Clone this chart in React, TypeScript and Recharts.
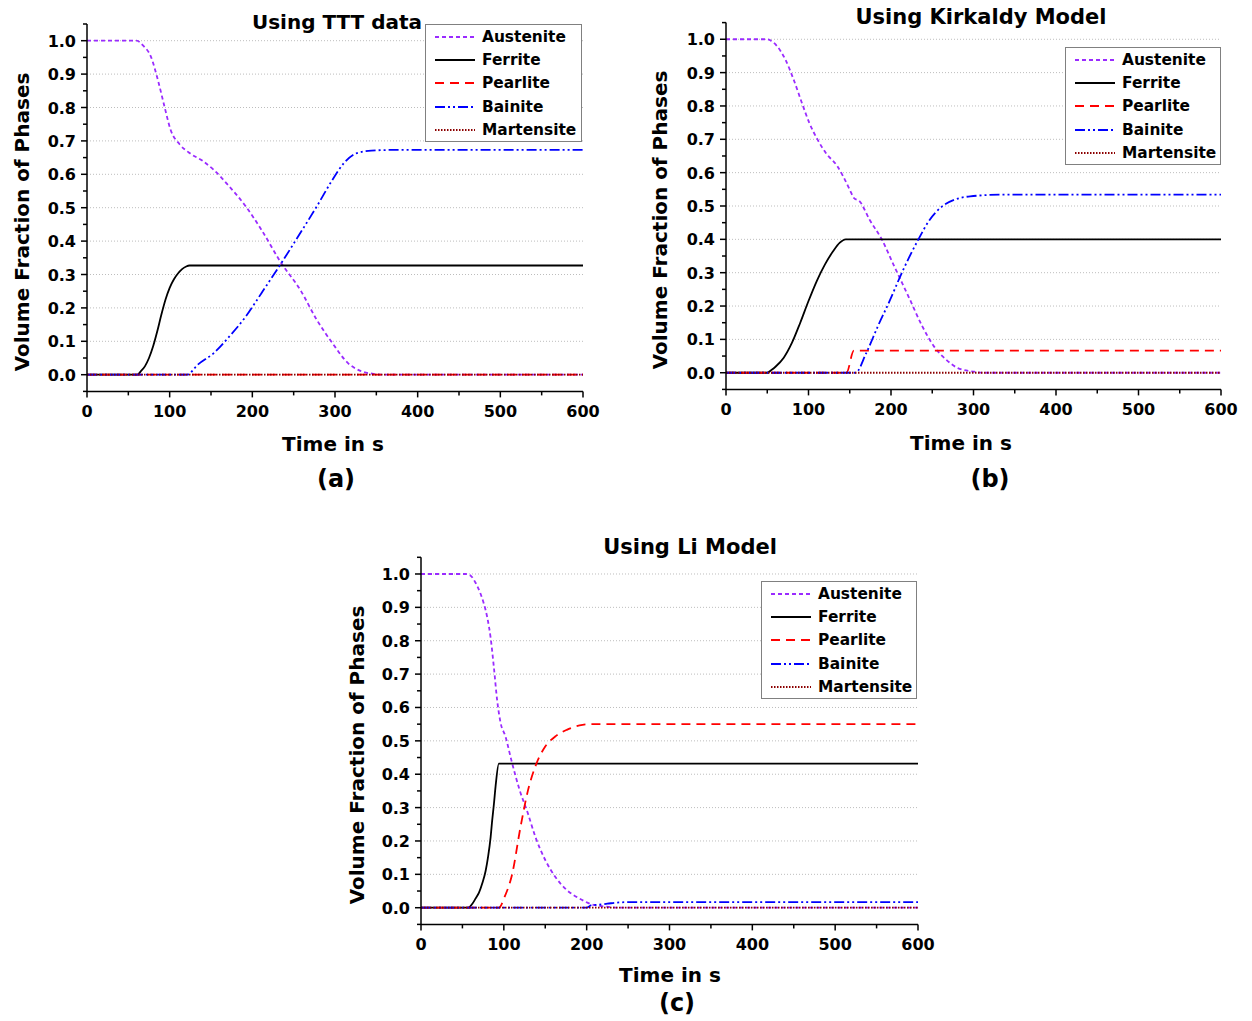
import React from 'react';
import { LineChart, Line, XAxis, YAxis, ReferenceLine, Legend } from 'recharts';

const FONT = '"DejaVu Sans", "Liberation Sans", sans-serif';

// axis ticks (minor every 50 s / 0.05, labels on the majors)
const xTicks = [0, 50, 100, 150, 200, 250, 300, 350, 400, 450, 500, 550, 600];
const yTicks = [-0.05, 0, 0.05, 0.1, 0.15, 0.2, 0.25, 0.3, 0.35, 0.4, 0.45, 0.5, 0.55, 0.6, 0.65, 0.7, 0.75, 0.8, 0.85, 0.9, 0.95, 1.0, 1.05];
const gridValues = [0, 0.1, 0.2, 0.3, 0.4, 0.5, 0.6, 0.7, 0.8, 0.9, 1.0];

const phaseNames = ['Austenite', 'Ferrite', 'Pearlite', 'Bainite', 'Martensite'];

// (a) Using TTT data
const tttAusteniteT = [0, 60, 68, 77, 86, 94, 101, 112, 125, 140, 153, 172, 192, 211, 235, 258, 278, 297, 316, 330, 345, 360, 600];
const tttAusteniteV = [1, 1, 0.985, 0.954, 0.88, 0.8, 0.734, 0.69, 0.662, 0.64, 0.614, 0.564, 0.504, 0.434, 0.334, 0.254, 0.164, 0.094, 0.034, 0.012, 0.003, 0, 0];
const tttFerriteT = [0, 61, 65, 70, 75, 80, 85, 90, 95, 100, 105, 110, 115, 120, 124, 600];
const tttFerriteV = [0, 0, 0.01, 0.025, 0.05, 0.085, 0.13, 0.18, 0.225, 0.26, 0.285, 0.303, 0.316, 0.324, 0.327, 0.327];
const tttPearliteT = [0, 600];
const tttPearliteV = [0, 0];
const tttBainiteT = [0, 121, 134, 153, 172, 192, 211, 235, 258, 278, 297, 311, 325, 344, 373, 600];
const tttBainiteV = [0, 0, 0.03, 0.064, 0.114, 0.174, 0.244, 0.334, 0.424, 0.504, 0.584, 0.634, 0.662, 0.671, 0.673, 0.673];
const tttMartensiteT = [0, 600];
const tttMartensiteV = [0, 0];

// (b) Using Kirkaldy Model
const kirAusteniteT = [0, 49, 55, 62, 72, 82, 92, 101, 111, 121, 135, 142, 150, 155, 162, 174, 189, 204, 223, 238, 252, 267, 281, 301, 311, 600];
const kirAusteniteV = [1, 1, 0.995, 0.979, 0.939, 0.879, 0.809, 0.749, 0.699, 0.659, 0.619, 0.589, 0.549, 0.524, 0.514, 0.459, 0.399, 0.319, 0.219, 0.139, 0.079, 0.039, 0.014, 0.003, 0, 0];
const kirFerriteT = [0, 50, 55, 60, 70, 80, 90, 100, 110, 120, 130, 138, 145, 600];
const kirFerriteV = [0, 0, 0.008, 0.018, 0.045, 0.09, 0.15, 0.215, 0.275, 0.325, 0.365, 0.39, 0.4, 0.4];
const kirPearliteT = [0, 146, 155, 600];
const kirPearliteV = [0, 0, 0.066, 0.066];
const kirBainiteT = [0, 157, 170, 184, 199, 213, 233, 247, 262, 277, 296, 335, 600];
const kirBainiteV = [0, 0, 0.059, 0.139, 0.219, 0.299, 0.399, 0.459, 0.499, 0.519, 0.529, 0.534, 0.534];
const kirMartensiteT = [0, 600];
const kirMartensiteV = [0, 0];

// (c) Using Li Model
const liAusteniteT = [0, 54, 60, 66, 72, 76, 80, 84, 88, 92, 96, 102, 109, 119, 129, 138, 150, 162, 176, 191, 205, 224, 243, 600];
const liAusteniteV = [1, 1, 0.995, 0.973, 0.94, 0.91, 0.87, 0.81, 0.72, 0.62, 0.555, 0.513, 0.443, 0.353, 0.283, 0.213, 0.143, 0.093, 0.053, 0.028, 0.011, 0.003, 0, 0];
const liFerriteT = [0, 57, 62, 66, 70, 74, 78, 81, 84, 86, 88, 90, 94, 600];
const liFerriteV = [0, 0, 0.012, 0.028, 0.045, 0.073, 0.11, 0.153, 0.21, 0.263, 0.31, 0.363, 0.432, 0.432];
const liPearliteT = [0, 94, 101, 110, 120, 129, 138, 150, 162, 176, 195, 205, 600];
const liPearliteV = [0, 0, 0.033, 0.1, 0.24, 0.35, 0.423, 0.483, 0.513, 0.533, 0.548, 0.55, 0.55];
const liBainiteT = [0, 200, 206, 215, 225, 240, 260, 600];
const liBainiteV = [0, 0, 0.008, 0.009, 0.012, 0.016, 0.017, 0.017];
const liMartensiteT = [0, 600];
const liMartensiteV = [0, 0];

const STYLES: Record<string, { stroke: string; dash?: string }> = {
  Austenite: { stroke: '#9a2bff', dash: '4 3' },
  Ferrite: { stroke: '#000000' },
  Pearlite: { stroke: '#ff0000', dash: '9 6' },
  Bainite: { stroke: '#0000ff', dash: '10 3 2 3 2 3' },
  Martensite: { stroke: '#8b0000', dash: '1.5 1.5' },
};

const zip = (t: number[], v: number[]) => t.map((x, i) => ({ t: x, v: v[i] }));

const XTick = (props: any) => {
  const { x, y, payload } = props;
  const major = Math.round(payload.value) % 100 === 0;
  return (
    <g>
      <line x1={x} x2={x} y1={y} y2={y + (major ? 6 : 4)} stroke="#000" strokeWidth={1.5} />
      {major && (
        <text x={x} y={y + 26} textAnchor="middle" fontFamily={FONT} fontWeight="bold" fontSize={16} fill="#000">
          {payload.value}
        </text>
      )}
    </g>
  );
};

const YTick = (props: any) => {
  const { x, y, payload } = props;
  const k = Math.round(payload.value * 100);
  const major = k % 10 === 0;
  return (
    <g>
      <line x1={x - (major ? 6 : 4)} x2={x} y1={y} y2={y} stroke="#000" strokeWidth={1.5} />
      {major && (
        <text x={x - 11} y={y + 6} textAnchor="end" fontFamily={FONT} fontWeight="bold" fontSize={16} fill="#000">
          {(k / 100).toFixed(1)}
        </text>
      )}
    </g>
  );
};

// keep the legend in the plotting order, not alphabetical
const LegendBox = ({ payload }: any) => {
  const items = [...(payload || [])].sort(
    (a: any, b: any) => phaseNames.indexOf(a.value) - phaseNames.indexOf(b.value),
  );
  return (
    <div style={{ border: '1px solid #808080', background: '#fff', padding: '0 2px 0 9px', boxSizing: 'border-box' }}>
      {items.map((e: any) => (
        <div key={e.value} style={{ display: 'flex', alignItems: 'center', height: 23.3 }}>
          <svg width={40} height={10} style={{ flexShrink: 0 }}>
            <line x1={0} y1={5} x2={40} y2={5} stroke={e.color} strokeWidth={1.8} strokeDasharray={STYLES[e.value]?.dash} />
          </svg>
          <span style={{ marginLeft: 7, fontFamily: FONT, fontWeight: 'bold', fontSize: 15.4, color: '#000', whiteSpace: 'nowrap' }}>
            {e.value}
          </span>
        </div>
      ))}
    </div>
  );
};

type Series = { name: string; t: number[]; v: number[] };

const Panel = ({ left, top, width, height, margin, series, legend }: {
  left: number; top: number; width: number; height: number;
  margin: { top: number; right: number; bottom: number; left: number };
  series: Series[]; legend: { left: number; top: number; width: number };
}) => (
  <div style={{ position: 'absolute', left, top }}>
    <LineChart width={width} height={height} margin={margin}>
      <XAxis type="number" dataKey="t" domain={[0, 600]} ticks={xTicks} interval={0} tick={XTick}
        tickLine={false} tickSize={0} tickMargin={0} height={30} allowDataOverflow
        axisLine={{ stroke: '#000', strokeWidth: 1.5 }} />
      <YAxis type="number" domain={[-0.05, 1.05]} ticks={yTicks} interval={0} tick={YTick}
        tickLine={false} tickSize={0} tickMargin={0} width={50} allowDataOverflow
        axisLine={{ stroke: '#000', strokeWidth: 1.5 }} />
      {gridValues.map((g) => (
        <ReferenceLine key={g} y={g} stroke="#bdbdbd" strokeDasharray="1 2" strokeWidth={1} />
      ))}
      {series.map((s) => (
        <Line key={s.name} name={s.name} data={zip(s.t, s.v)} dataKey="v" type="monotone"
          stroke={STYLES[s.name].stroke} strokeDasharray={STYLES[s.name].dash} strokeWidth={1.8}
          dot={false} activeDot={false} isAnimationActive={false} />
      ))}
      <Legend layout="vertical" align="center" verticalAlign="middle"
        wrapperStyle={{ left: legend.left, top: legend.top, width: legend.width }}
        content={(p: any) => <LegendBox {...p} />} />
    </LineChart>
  </div>
);

const build = (arrs: number[][][]): Series[] => phaseNames.map((n, i) => ({ name: n, t: arrs[i][0], v: arrs[i][1] }));

const tttSeries = build([[tttAusteniteT, tttAusteniteV], [tttFerriteT, tttFerriteV], [tttPearliteT, tttPearliteV], [tttBainiteT, tttBainiteV], [tttMartensiteT, tttMartensiteV]]);
const kirSeries = build([[kirAusteniteT, kirAusteniteV], [kirFerriteT, kirFerriteV], [kirPearliteT, kirPearliteV], [kirBainiteT, kirBainiteV], [kirMartensiteT, kirMartensiteV]]);
const liSeries = build([[liAusteniteT, liAusteniteV], [liFerriteT, liFerriteV], [liPearliteT, liPearliteV], [liBainiteT, liBainiteV], [liMartensiteT, liMartensiteV]]);

const Txt = ({ x, y, size, children, rotate }: { x: number; y: number; size: number; children: React.ReactNode; rotate?: boolean }) => (
  <div style={{
    position: 'absolute', left: x, top: y, whiteSpace: 'nowrap', fontFamily: FONT, fontWeight: 'bold',
    fontSize: size, lineHeight: 1, color: '#000',
    transform: `translate(-50%, -50%)${rotate ? ' rotate(-90deg)' : ''}`,
  }}>{children}</div>
);

export default function App() {
  return (
    <div style={{ position: 'absolute', left: 0, top: 0, width: 1252, height: 1021, background: '#fff', overflow: 'hidden' }}>
      <Panel left={0} top={0} width={620} height={480}
        margin={{ top: 24, right: 37, bottom: 58.6, left: 37 }}
        series={tttSeries} legend={{ left: 425, top: 24, width: 157 }} />
      <Panel left={640} top={0} width={612} height={480}
        margin={{ top: 22.6, right: 31, bottom: 60.6, left: 36 }}
        series={kirSeries} legend={{ left: 425, top: 47, width: 156 }} />
      <Panel left={330} top={520} width={620} height={480}
        margin={{ top: 37.3, right: 32, bottom: 45.6, left: 41 }}
        series={liSeries} legend={{ left: 431, top: 61, width: 156 }} />

      <Txt x={337} y={22} size={20}>Using TTT data</Txt>
      <Txt x={981} y={17} size={21}>Using Kirkaldy Model</Txt>
      <Txt x={690} y={547} size={21}>Using Li Model</Txt>

      <Txt x={333} y={444} size={20}>Time in s</Txt>
      <Txt x={961} y={443} size={20}>Time in s</Txt>
      <Txt x={670} y={975} size={20}>Time in s</Txt>

      <Txt x={22} y={222} size={20} rotate>Volume Fraction of Phases</Txt>
      <Txt x={660} y={220} size={20} rotate>Volume Fraction of Phases</Txt>
      <Txt x={357} y={755} size={20} rotate>Volume Fraction of Phases</Txt>

      <Txt x={336} y={479} size={24}>(a)</Txt>
      <Txt x={990} y={479} size={24}>(b)</Txt>
      <Txt x={677} y={1003} size={24}>(c)</Txt>
    </div>
  );
}
